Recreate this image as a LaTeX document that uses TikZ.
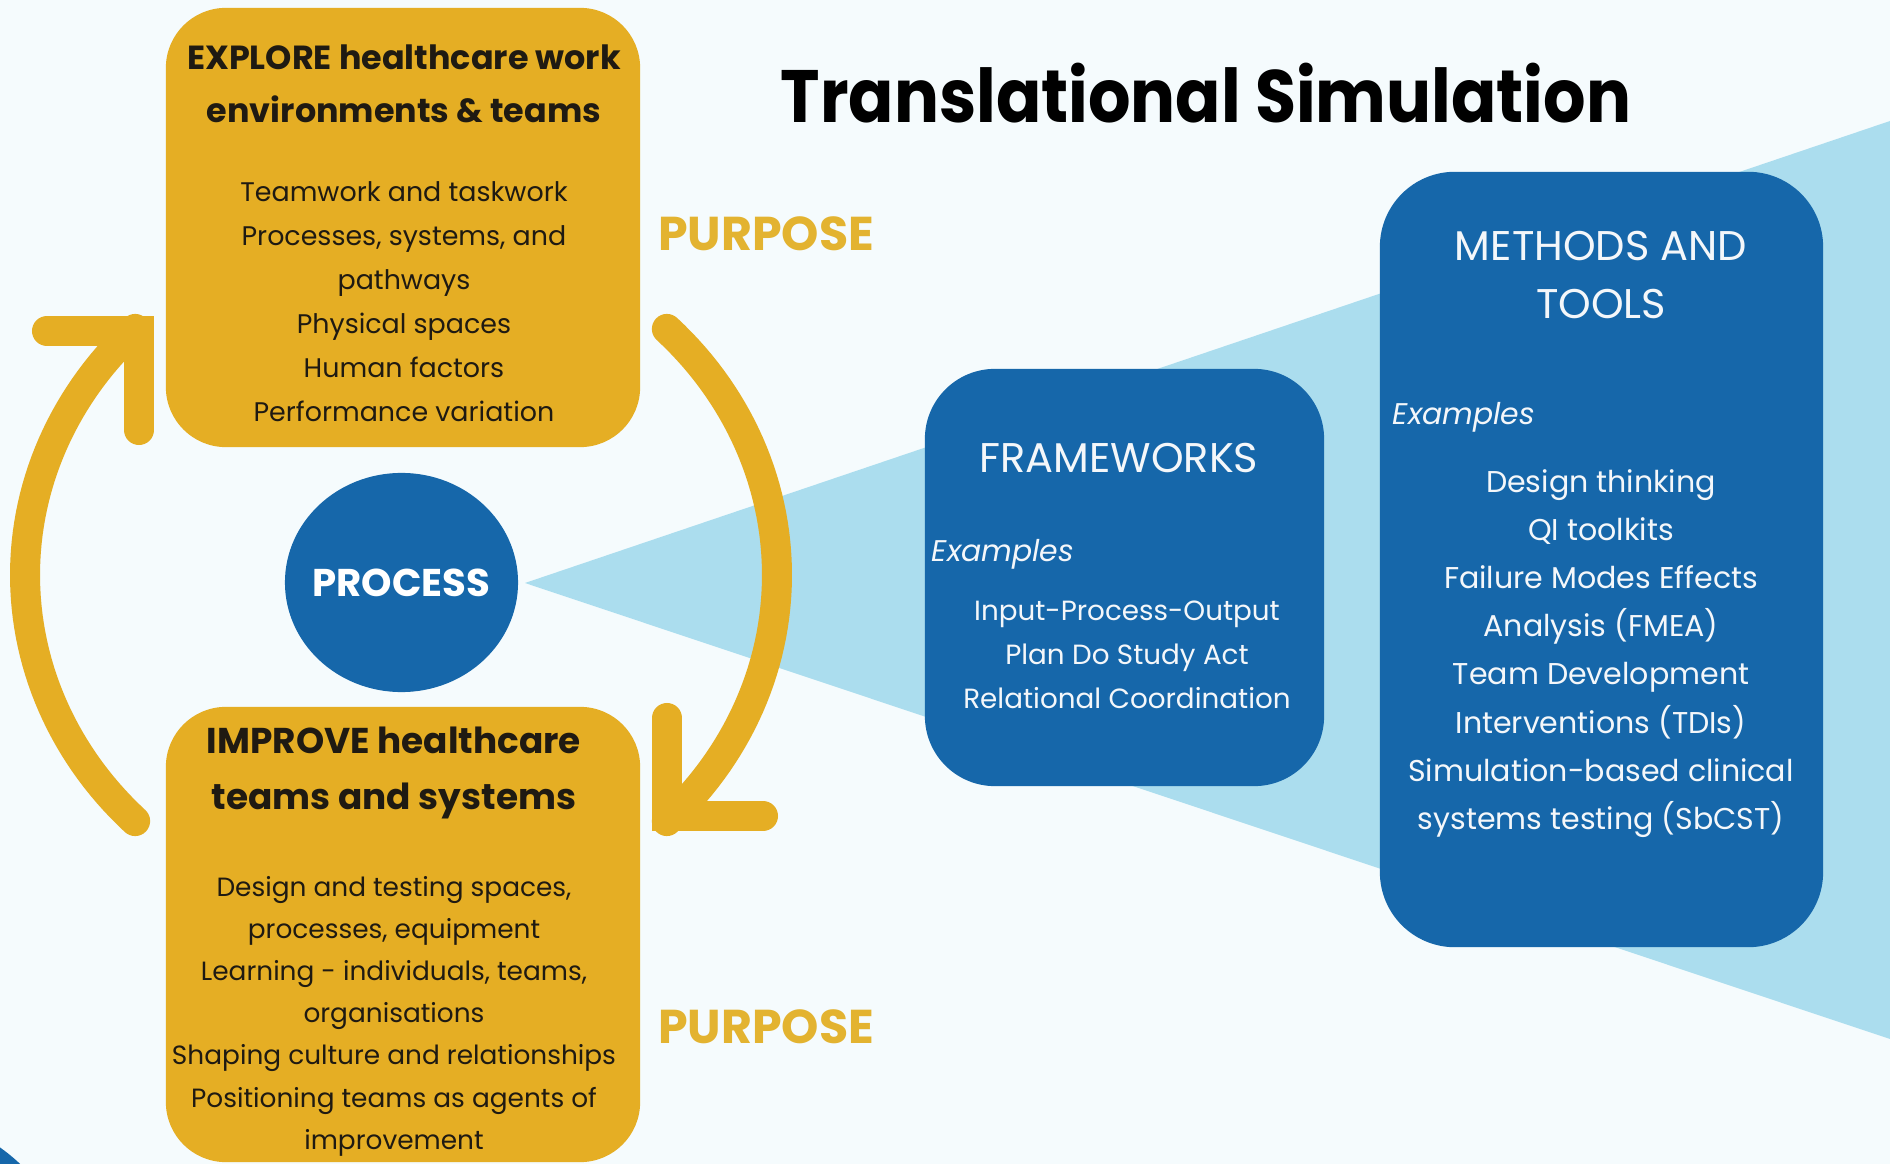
\documentclass[tikz,border=0pt]{standalone}
\usepackage{fontspec}
\setmainfont{Poppins}
\newfontfamily\titlefont{Poppins}[FakeStretch=0.9]
\usetikzlibrary{shapes.geometric}
\definecolor{bg}{HTML}{F5FBFD}
\definecolor{gold}{HTML}{E5AE24}
\definecolor{purp}{HTML}{E3B330}
\definecolor{deepblue}{HTML}{1667AA}
\definecolor{pale}{HTML}{ABDDEE}
\definecolor{ink}{HTML}{1F1A12}
\definecolor{snow}{HTML}{F4F7FA}
\tikzset{
  ybox/.style={fill=gold, rounded corners=0.6cm, inner sep=0, minimum width=4.74cm},
  bbox/.style={fill=deepblue, inner sep=0},
  yarc/.style={draw=gold, line width=0.3cm, line cap=round},
  ychev/.style={draw=gold, line width=0.3cm, line cap=round, line join=miter},
  ytitle/.style={align=center, text=ink, inner sep=0, font=\bfseries\fontsize{9.5}{15.1}\selectfont},
  ytitleb/.style={align=center, text=ink, inner sep=0, font=\bfseries\fontsize{10.2}{15.9}\selectfont},
  ybody/.style={align=center, text=ink, inner sep=0, font=\fontsize{7.65}{12.5}\selectfont},
  ybodyb/.style={align=center, text=ink, inner sep=0, font=\fontsize{7.5}{12.0}\selectfont},
  purpose/.style={text=purp, inner sep=0, font=\bfseries\fontsize{13.5}{15}\selectfont},
  bhead/.style={align=center, text=snow, inner sep=0, font=\fontsize{11.8}{16.5}\selectfont},
  bex/.style={anchor=west, text=snow, inner sep=0, font=\itshape\fontsize{8.5}{10}\selectfont},
  bbody/.style={align=center, text=snow, inner sep=0, font=\fontsize{7.9}{12.5}\selectfont},
  bbodyb/.style={align=center, text=snow, inner sep=0, font=\fontsize{8.55}{13.7}\selectfont},
  maintitle/.style={text=black, inner sep=0, font=\titlefont\bfseries\fontsize{21.1}{24}\selectfont}
}
\begin{document}
\begin{tikzpicture}[x=0.01cm,y=-0.01cm]
\fill[bg] (0,0) rectangle (1890,1164);
\useasboundingbox (0,0) rectangle (1890,1164);
% light blue wedge
\coordinate (apex) at (525,583);
\coordinate (tr) at (1890,121);
\coordinate (br) at (1890,1039);
\fill[pale] (apex) -- (tr) -- (br) -- cycle;
% sliver bottom-left
\fill[deepblue] (-100,1290) circle[radius=1.74cm];
% yellow boxes
\node[ybox, minimum height=4.39cm] (explore) at (403,227.5) {};
\node[ybox, minimum height=4.55cm] (improve) at (403,934.5) {};
% process
\node[ellipse, fill=deepblue, minimum width=2.33cm, minimum height=2.19cm, inner sep=0] (process) at (401.5,582.5) {};
\node[text=white, inner sep=0, font=\bfseries\fontsize{11}{13}\selectfont] (processlabel) at (process.center) {PROCESS};
% blue boxes
\node[bbox, rounded corners=0.7cm, minimum width=3.99cm, minimum height=4.17cm] (frameworks) at (1124.5,577.5) {};
\node[bbox, rounded corners=0.75cm, minimum width=4.43cm, minimum height=7.75cm] (methods) at (1601.5,559.5) {};
% cycle arrows
\draw[yarc] plot[domain=135:225, samples=60, variable=\t] ({401+376*cos(\t)},{575+348*sin(\t)});
\draw[ychev] (47,331) -- (139,331) -- (139,430);
\draw[yarc] plot[domain=-45:45, samples=60, variable=\t] ({401+376*cos(\t)},{575+348*sin(\t)});
\draw[ychev] (667,718) -- (667,816) -- (763,816);
% texts
\node[maintitle] (title) at (1206,93) {Translational Simulation};
\node[ytitle] (extitle) at (404,83.5) {EXPLORE healthcare work\\environments \& teams};
\node[ybody] (exbody) at (404,302) {Teamwork and taskwork\\Processes, systems, and\\pathways\\Physical spaces\\Human factors\\Performance variation};
\node[ytitleb] (imtitle) at (394,773) {IMPROVE healthcare\\teams and systems};
\node[ybodyb] (imbody) at (394,1016) {Design and testing spaces,\\processes, equipment\\Learning - individuals, teams,\\organisations\\Shaping culture and relationships\\Positioning teams as agents of\\improvement};
\node[purpose] (purposea) at (766,234) {PURPOSE};
\node[purpose] (purposeb) at (766,1027) {PURPOSE};
\node[bhead] (fwtitle) at (1119,458) {FRAMEWORKS};
\node[bex] (fwex) at (931,554) {Examples};
\node[bbody] (fwbody) at (1127,655) {Input-Process-Output\\Plan Do Study Act\\Relational Coordination};
\node[bhead] (mttitle) at (1601,275) {METHODS AND\\TOOLS};
\node[bex] (mtex) at (1392,417) {Examples};
\node[bbodyb] (mtbody) at (1601,653.5) {Design thinking\\QI toolkits\\Failure Modes Effects\\Analysis (FMEA)\\Team Development\\Interventions (TDIs)\\Simulation-based clinical\\systems testing (SbCST)};
\end{tikzpicture}
\end{document}
